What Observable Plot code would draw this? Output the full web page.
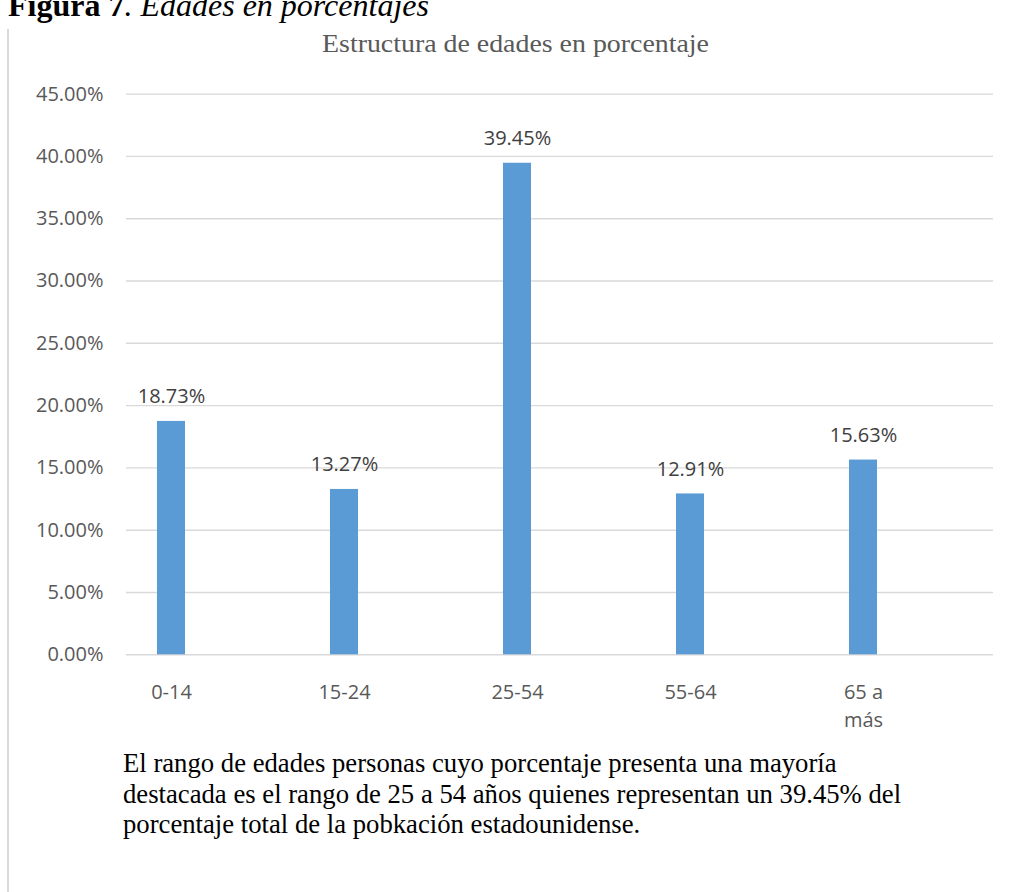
<!DOCTYPE html>
<html>
<head>
<meta charset="utf-8">
<script src="https://cdn.jsdelivr.net/npm/d3@7"></script>
<script src="https://cdn.jsdelivr.net/npm/@observablehq/plot@0.6"></script>
<style>
  html, body { margin: 0; padding: 0; background: #fff; }
  #page { position: relative; width: 1010px; height: 892px; overflow: hidden; background: #fff; }
  #fig-label {
    position: absolute; left: 8px; top: -11px; white-space: nowrap;
    font-family: "Liberation Serif", "Times New Roman", serif; font-size: 32px; line-height: 32px; color: #000;
  }
  #fig-label b { font-weight: bold; }
  #fig-label i { font-style: italic; }
  #border { position: absolute; left: 7px; top: 29px; width: 1.5px; height: 870px; background: #d9d9d9; }
  #title {
    position: absolute; left: 0; top: 31px; width: 1031px; text-align: center; white-space: nowrap;
    font-family: "Liberation Serif", "Times New Roman", serif; font-size: 25px; line-height: 25px; color: #595959;
    transform: scaleX(1.115); transform-origin: 515.5px 0;
  }
  #chart { position: absolute; left: 0; top: 0; }
  #caption {
    position: absolute; left: 123px; top: 748px; width: 860px;
    font-family: "Liberation Serif", "Times New Roman", serif; font-size: 26.7px; line-height: 30.5px; color: #000;
  }
</style>
</head>
<body>
<div id="page">
  <div id="fig-label"><b>Figura 7</b><i>. Edades en porcentajes</i></div>
  <div id="border"></div>
  <div id="chart"></div>
  <div id="title">Estructura de edades en porcentaje</div>
  <div id="caption">El rango de edades personas cuyo porcentaje presenta una mayoría<br>destacada es el rango de 25 a 54 años quienes representan un 39.45% del<br>porcentaje total de la pobkación estadounidense.</div>
</div>
<script>
// Age groups and their share of the population (%)
const ageGroups = ["0-14", "15-24", "25-54", "55-64", "65 a más"];
const shares = [18.73, 13.27, 39.45, 12.91, 15.63];
const yTicks = [0, 5, 10, 15, 20, 25, 30, 35, 40, 45];

const rows = ageGroups.map((g, i) => ({group: g, share: shares[i]}));

const fmtPct = d => d.toFixed(2) + "%";
// Long category names wrap onto two lines before the last word
const wrapLabel = d => d.length > 6 ? d.replace(/ (\S+)$/, "\n$1") : d;

const chart = Plot.plot({
  width: 1010,
  height: 740,
  marginLeft: 126,
  marginRight: 17,
  marginTop: 93.6,
  marginBottom: 85.7,
  style: {fontFamily: "'Open Sans', 'Noto Sans', sans-serif", fontSize: "20px", background: "transparent"},
  x: {domain: ageGroups, range: [82.5, 950.25], paddingInner: 0.84, paddingOuter: 0.42},
  y: {domain: [0, 45]},
  marks: [
    Plot.ruleY(yTicks, {stroke: "#d9d9d9", strokeWidth: 1.4}),
    Plot.barY(rows, {x: "group", y: "share", fill: "#5b9bd5"}),
    Plot.text(rows, {
      x: "group", y: "share", text: d => fmtPct(d.share),
      lineAnchor: "bottom", dy: -18, fill: "#404040", fontSize: 20
    }),
    Plot.axisY({
      ticks: yTicks, tickFormat: fmtPct, tickSize: 0, tickPadding: 23,
      fill: "#595959", fontSize: 20, label: null
    }),
    Plot.axisX({
      tickSize: 0, tickPadding: 24, tickFormat: wrapLabel, lineHeight: 1.42,
      fill: "#595959", fontSize: 20, label: null
    })
  ]
});

document.getElementById("chart").appendChild(chart);
</script>
</body>
</html>
